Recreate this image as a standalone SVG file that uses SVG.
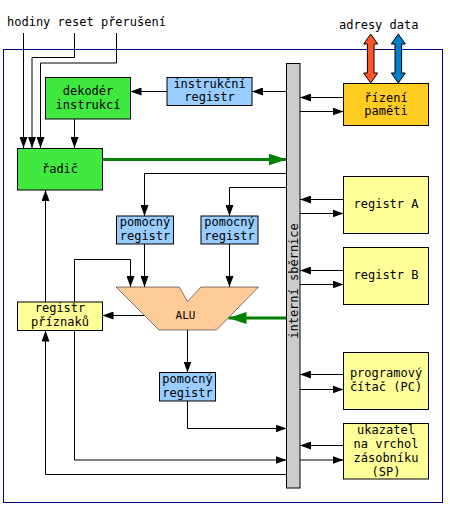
<svg xmlns="http://www.w3.org/2000/svg" width="450" height="512" viewBox="0 0 450 512">
<style>
text{font-family:"DejaVu Sans Mono","Liberation Mono",monospace;font-size:12px;fill:#000;text-anchor:middle}
.lbl{text-anchor:start}
.c{fill:none;stroke:#000;stroke-width:1}
.g{fill:none;stroke:#008000;stroke-width:3}
.box{stroke:#000;stroke-width:1}
.grn{fill:#40e840}
.blu{fill:#99ccff}
.yel{fill:#ffff99}
.gold{fill:#ffcc22}
</style>
<defs>
<marker id="a" viewBox="0 0 11 8" refX="11" refY="4" markerWidth="11" markerHeight="8" markerUnits="userSpaceOnUse" orient="auto"><path d="M0,0 L11,4 L0,8 Z" fill="#000"/></marker>
<marker id="ga" viewBox="0 0 18 12" refX="18" refY="6" markerWidth="18" markerHeight="12" markerUnits="userSpaceOnUse" orient="auto"><path d="M0,0 L18,6 L0,12 Z" fill="#008000"/></marker>
</defs>
<rect width="450" height="512" fill="#fff"/>
<rect x="3.5" y="49.5" width="439" height="453" fill="none" stroke="#000080" stroke-width="1"/>
<text class="lbl" x="7" y="26">hodiny reset přerušení</text>
<text class="lbl" x="339" y="29">adresy data</text>
<g id="connectors">
<path class="c" d="M23.5,33 V148" marker-end="url(#a)"/>
<path class="c" d="M74.5,33 V57.5 H32 V148" marker-end="url(#a)"/>
<path class="c" d="M116.5,33 V63 H40.5 V148" marker-end="url(#a)"/>
<path class="c" d="M74.5,119 V148" marker-end="url(#a)"/>
<path class="c" d="M167,91.5 H130.5" marker-end="url(#a)"/>
<path class="c" d="M286.5,91.5 H252" marker-end="url(#a)"/>
<path class="c" d="M343.5,97.5 H300" marker-end="url(#a)"/>
<path class="c" d="M300,111.5 H343.5" marker-end="url(#a)"/>
<path class="g" d="M102.5,159.5 H286.5" marker-end="url(#ga)"/>
<path class="c" d="M286.5,173.5 H144.5 V216" marker-end="url(#a)"/>
<path class="c" d="M286.5,187.5 H229.5 V216" marker-end="url(#a)"/>
<path class="c" d="M144.5,244 V287" marker-end="url(#a)"/>
<path class="c" d="M229.5,244 V287" marker-end="url(#a)"/>
<path class="c" d="M74.5,460 V259.5 H130.5 V287" marker-end="url(#a)"/>
<path class="c" d="M74.5,460 H286.5" marker-end="url(#a)"/>
<path class="c" d="M144.7,315.5 H102.5" marker-end="url(#a)"/>
<path class="g" d="M286.5,318 H228.5" marker-end="url(#ga)"/>
<path class="c" d="M187.5,330 V372.5" marker-end="url(#a)"/>
<path class="c" d="M187.5,401 V428.5 H286.5" marker-end="url(#a)"/>
<path class="c" d="M286.5,474.5 H45.5 V330.5" marker-end="url(#a)"/>
<path class="c" d="M45.5,302 V190" marker-end="url(#a)"/>
<path class="c" d="M343.5,199.5 H300" marker-end="url(#a)"/>
<path class="c" d="M300,213.5 H343.5" marker-end="url(#a)"/>
<path class="c" d="M343.5,270.5 H300" marker-end="url(#a)"/>
<path class="c" d="M300,284.5 H343.5" marker-end="url(#a)"/>
<path class="c" d="M343.5,374.5 H300" marker-end="url(#a)"/>
<path class="c" d="M300,389.5 H343.5" marker-end="url(#a)"/>
<path class="c" d="M343.5,445.5 H300" marker-end="url(#a)"/>
<path class="c" d="M300,460 H343.5" marker-end="url(#a)"/>
<polygon points="370.7,34 377.7,44 374,44 374,73 377.7,73 370.7,83 363.7,73 367.4,73 367.4,44 363.7,44" fill="#ff5522" stroke="#000" stroke-width="1"/>
<polygon points="398.3,34 405.3,44 401.6,44 401.6,73 405.3,73 398.3,83 391.3,73 395,73 395,44 391.3,44" fill="#0080d0" stroke="#000" stroke-width="1"/>
</g>
<g id="bus">
<rect class="box" x="286.5" y="63.5" width="13.5" height="424.5" fill="#cccccc"/>
<text transform="translate(297.5,281) rotate(-90)">interní sběrnice</text>
</g>
<g id="dekoder">
<rect class="box grn" x="45.5" y="77.5" width="85" height="41.5"/>
<text x="88" y="95">dekodér</text>
<text x="88" y="109.3">instrukcí</text>
</g>
<g id="radic">
<rect class="box grn" x="17.5" y="148.5" width="85" height="41.5"/>
<text x="60" y="173">řadič</text>
</g>
<g id="instrukcni-registr">
<rect class="box blu" x="167" y="77.5" width="85" height="28"/>
<text x="209.5" y="87.8">instrukční</text>
<text x="209.5" y="100.5">registr</text>
</g>
<g id="rizeni-pameti">
<rect class="box gold" x="343.5" y="83.5" width="85" height="42"/>
<text x="386" y="101.5">řízení</text>
<text x="386" y="115">paměti</text>
</g>
<g id="pomocny1">
<rect class="box blu" x="116.5" y="216" width="57" height="28"/>
<text x="145" y="226">pomocný</text>
<text x="145" y="240">registr</text>
</g>
<g id="pomocny2">
<rect class="box blu" x="201" y="216" width="57" height="28"/>
<text x="229.5" y="226">pomocný</text>
<text x="229.5" y="240">registr</text>
</g>
<g id="alu">
<polygon points="116,287 179.3,287 187.5,301.5 201,287 258.5,287 216.5,330 159,330" fill="#ffcc99" stroke="#000" stroke-width="0.5"/>
<text x="185.5" y="319" style="font-size:11px">ALU</text>
</g>
<g id="registr-priznaku">
<rect class="box yel" x="17.5" y="302" width="85" height="28.5"/>
<text x="60" y="312">registr</text>
<text x="60" y="326">příznaků</text>
</g>
<g id="pomocny3">
<rect class="box blu" x="159.5" y="372.5" width="56" height="28.5"/>
<text x="187.5" y="383">pomocný</text>
<text x="187.5" y="397">registr</text>
</g>
<g id="registr-a">
<rect class="box yel" x="343.5" y="176.5" width="85" height="57"/>
<text x="386" y="208">registr A</text>
</g>
<g id="registr-b">
<rect class="box yel" x="343.5" y="247.5" width="85" height="57"/>
<text x="386" y="279">registr B</text>
</g>
<g id="pc">
<rect class="box yel" x="343.5" y="352.5" width="85" height="57"/>
<text x="386" y="376.5">programový</text>
<text x="386" y="390.5">čítač (PC)</text>
</g>
<g id="sp">
<rect class="box yel" x="343.5" y="423.5" width="85" height="55.5"/>
<text x="386" y="434">ukazatel</text>
<text x="386" y="448">na vrchol</text>
<text x="386" y="462">zásobníku</text>
<text x="386" y="476">(SP)</text>
</g>
</svg>
